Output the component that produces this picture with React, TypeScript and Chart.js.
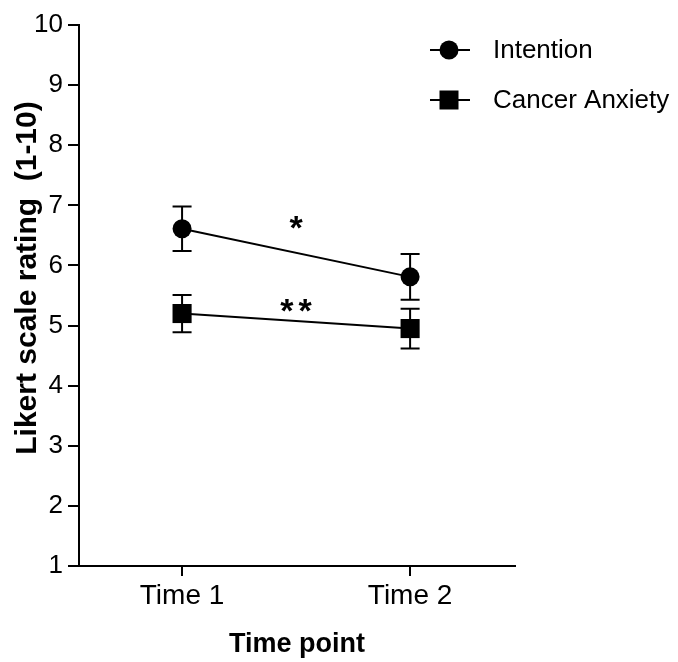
import React, { useEffect, useRef } from 'react';
import { Chart, registerables } from 'chart.js';

Chart.register(...registerables);

const timeLabels = ['Time 1', 'Time 2'];
const timeValues = [1, 2];
const intentionMeans = [6.61, 5.81];
const intentionErr = [0.37, 0.38];
const anxietyMeans = [5.2, 4.95];
const anxietyErr = [0.31, 0.33];
const yTickValues = [1, 2, 3, 4, 5, 6, 7, 8, 9, 10];
const sigLabels = ['*', '**'];
const sigX = [1.5, 1.5];
const sigY = [6.71, 5.34];
const seriesNames = ['Intention', 'Cancer Anxiety'];
const yTitle = 'Likert scale rating  (1-10)';
const xTitle = 'Time point';

const FONT = '"Liberation Sans", Arial, sans-serif';

const overlayPlugin = {
  id: 'overlay',
  beforeDatasetsDraw(chart: any) {
    const ctx = chart.ctx;
    const xs = chart.scales.x;
    const ys = chart.scales.y;
    const sets = [
      { m: intentionMeans, e: intentionErr },
      { m: anxietyMeans, e: anxietyErr },
    ];
    ctx.save();
    ctx.strokeStyle = '#000';
    ctx.lineWidth = 2;
    sets.forEach((s) => {
      s.m.forEach((v, i) => {
        const px = xs.getPixelForValue(timeValues[i]);
        const top = ys.getPixelForValue(v + s.e[i]);
        const bot = ys.getPixelForValue(v - s.e[i]);
        ctx.beginPath();
        ctx.moveTo(px, top);
        ctx.lineTo(px, bot);
        ctx.moveTo(px - 9.5, top);
        ctx.lineTo(px + 9.5, top);
        ctx.moveTo(px - 9.5, bot);
        ctx.lineTo(px + 9.5, bot);
        ctx.stroke();
      });
    });
    ctx.restore();
  },
  afterDraw(chart: any) {
    const ctx = chart.ctx;
    const xs = chart.scales.x;
    const ys = chart.scales.y;
    const area = chart.chartArea;
    ctx.save();
    // x-axis extension left of the y-axis
    ctx.strokeStyle = '#000';
    ctx.lineWidth = 2;
    ctx.beginPath();
    ctx.moveTo(area.left - 10, area.bottom);
    ctx.lineTo(area.left, area.bottom);
    ctx.stroke();

    // y-axis title
    ctx.fillStyle = '#000';
    ctx.save();
    ctx.translate(28, 278);
    ctx.rotate(-Math.PI / 2);
    ctx.font = `bold 30px ${FONT}`;
    ctx.textAlign = 'center';
    ctx.textBaseline = 'middle';
    ctx.fillText(yTitle, 0, 0);
    ctx.restore();

    // significance asterisks
    ctx.save();
    ctx.font = `bold 34px ${FONT}`;
    ctx.textAlign = 'left';
    ctx.textBaseline = 'alphabetic';
    const gap = 5;
    sigLabels.forEach((t, i) => {
      const px = xs.getPixelForValue(sigX[i]);
      const py = ys.getPixelForValue(sigY[i]);
      const chars = t.split('');
      const widths = chars.map((c) => ctx.measureText(c).width);
      const total = widths.reduce((a, b) => a + b, 0) + gap * (chars.length - 1);
      const m = ctx.measureText(t);
      const off = (m.actualBoundingBoxAscent - m.actualBoundingBoxDescent) / 2;
      let cx = px - total / 2;
      chars.forEach((c, k) => {
        ctx.fillText(c, cx, py + off);
        cx += widths[k] + gap;
      });
    });
    ctx.restore();

    // legend
    const lx = 449;
    const rows = [50, 100];
    ctx.font = `26px ${FONT}`;
    ctx.textAlign = 'left';
    ctx.textBaseline = 'middle';
    rows.forEach((ry, i) => {
      ctx.beginPath();
      ctx.moveTo(lx - 19, ry);
      ctx.lineTo(lx + 21, ry);
      ctx.stroke();
      if (i === 0) {
        ctx.beginPath();
        ctx.arc(lx, ry, 9.5, 0, Math.PI * 2);
        ctx.fill();
      } else {
        ctx.fillRect(lx - 9.5, ry - 9.5, 19, 19);
      }
      ctx.fillText(seriesNames[i], 493, ry + 1);
    });
    ctx.restore();
  },
};

export default function App() {
  const ref = useRef<HTMLCanvasElement>(null);
  useEffect(() => {
    if (!ref.current) return;
    const chart = new Chart(ref.current, {
      type: 'line',
      data: {
        datasets: [
          {
            label: seriesNames[0],
            data: timeValues.map((x, i) => ({ x, y: intentionMeans[i] })),
            borderColor: '#000',
            backgroundColor: '#000',
            borderWidth: 2,
            pointStyle: 'circle',
            pointRadius: 9.5,
            pointBorderWidth: 0,
            clip: false,
          },
          {
            label: seriesNames[1],
            data: timeValues.map((x, i) => ({ x, y: anxietyMeans[i] })),
            borderColor: '#000',
            backgroundColor: '#000',
            borderWidth: 2,
            pointStyle: 'rect',
            pointRadius: 13.5,
            pointBorderWidth: 0,
            clip: false,
          },
        ],
      },
      options: {
        responsive: false,
        animation: false,
        layout: { padding: { left: 0, right: 163, top: 25, bottom: 0 } },
        plugins: { legend: { display: false }, tooltip: { enabled: false } },
        scales: {
          x: {
            type: 'linear',
            min: 0.548,
            max: 2.46,
            afterBuildTicks: (s: any) => {
              s.ticks = timeValues.map((v) => ({ value: v }));
            },
            afterFit: (s: any) => {
              s.height = 96;
            },
            ticks: {
              color: '#000',
              font: { family: FONT, size: 28 },
              padding: 3,
              maxRotation: 0,
              callback: (v: any) => {
                const idx = timeValues.indexOf(Number(v));
                return idx >= 0 ? timeLabels[idx] : '';
              },
            },
            grid: {
              display: true,
              drawOnChartArea: false,
              drawTicks: true,
              tickLength: 10,
              color: '#000',
              lineWidth: 2,
            },
            border: { display: true, color: '#000', width: 2 },
            title: {
              display: true,
              text: xTitle,
              color: '#000',
              font: { family: FONT, size: 27, weight: 'bold' },
              padding: { top: 0, bottom: 1 },
            },
          },
          y: {
            type: 'linear',
            min: 1,
            max: 10,
            afterBuildTicks: (s: any) => {
              s.ticks = yTickValues.map((v) => ({ value: v }));
            },
            afterFit: (s: any) => {
              s.width = 79;
            },
            ticks: {
              color: '#000',
              font: { family: FONT, size: 26 },
              padding: 5,
            },
            grid: {
              display: true,
              drawOnChartArea: false,
              drawTicks: true,
              tickLength: 11,
              color: '#000',
              lineWidth: 2,
            },
            border: { display: true, color: '#000', width: 2 },
            title: { display: false },
          },
        },
      },
      plugins: [overlayPlugin],
    });
    return () => chart.destroy();
  }, []);
  return (
    <div style={{ position: 'fixed', left: 0, top: 0, width: 678, height: 662, background: '#fff' }}>
      <canvas ref={ref} width={678} height={662} style={{ display: 'block' }} />
    </div>
  );
}
